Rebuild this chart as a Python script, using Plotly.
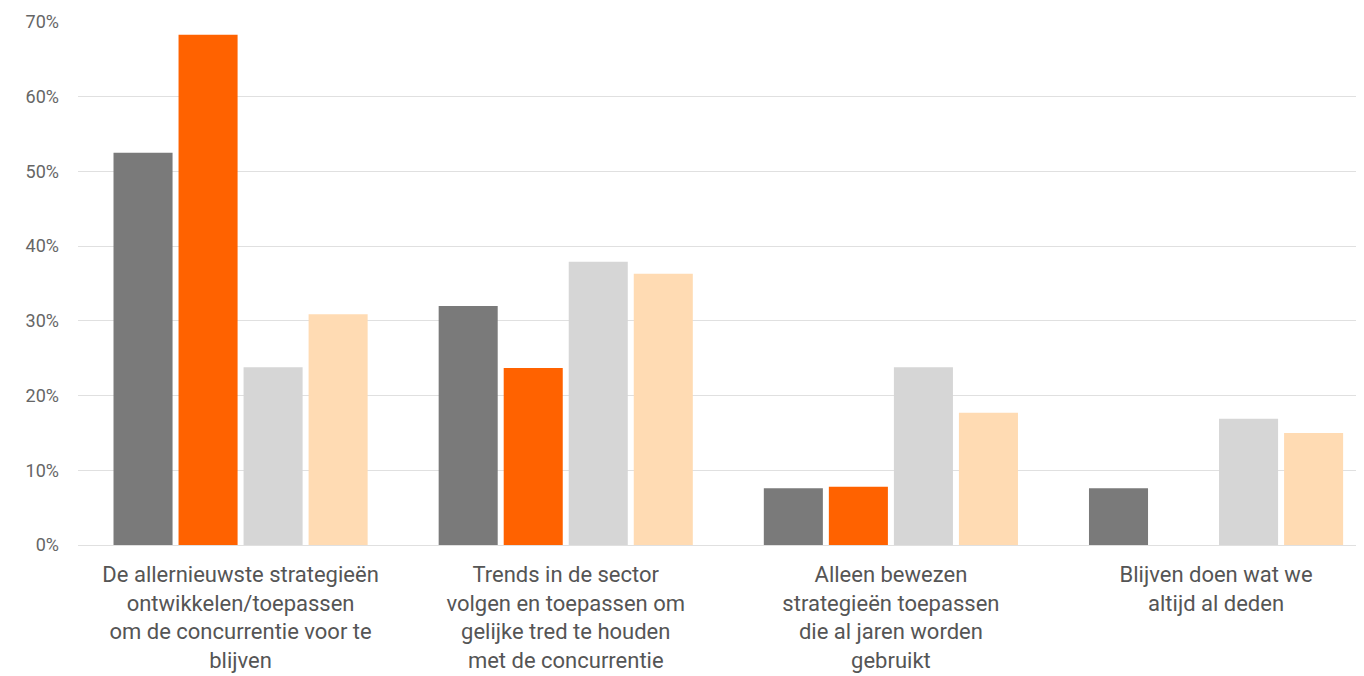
import plotly.graph_objects as go

categories = [
    "De allernieuwste strategieën<br>ontwikkelen/toepassen<br>om de concurrentie voor te<br>blijven",
    "Trends in de sector<br>volgen en toepassen om<br>gelijke tred te houden<br>met de concurrentie",
    "Alleen bewezen<br>strategieën toepassen<br>die al jaren worden<br>gebruikt",
    "Blijven doen wat we<br>altijd al deden",
]
series_names = ["Serie 1", "Serie 2", "Serie 3", "Serie 4"]
series_values = [
    [0.525, 0.320, 0.076, 0.076],
    [0.683, 0.237, 0.078, 0.0],
    [0.238, 0.379, 0.238, 0.169],
    [0.309, 0.363, 0.177, 0.150],
]
colors = ["#7a7a7a", "#ff6200", "#d6d6d6", "#ffdbb3"]
ytick_vals = [0, 0.1, 0.2, 0.3, 0.4, 0.5, 0.6, 0.7]
ytick_text = ["0%", "10%", "20%", "30%", "40%", "50%", "60%", "70%"]

fig = go.Figure()
for name, vals, col in zip(series_names, series_values, colors):
    fig.add_trace(go.Bar(
        x=list(range(len(categories))), y=vals, name=name,
        marker=dict(color=col, line=dict(width=0)),
    ))

fig.update_layout(
    width=1356, height=668,
    margin=dict(l=70, r=0, t=14, b=131),
    paper_bgcolor="white", plot_bgcolor="white",
    barmode="group", bargap=0.2, bargroupgap=0.092,
    showlegend=False,
    font=dict(family="Roboto", color="#555555"),
    xaxis=dict(
        tickmode="array", tickvals=list(range(len(categories))), ticktext=categories,
        range=[-0.5, 3.455], showgrid=False, zeroline=False, showline=False,
        ticks="", tickfont=dict(family="Roboto", size=22, color="#555555"),
        ticklabelstandoff=14,
    ),
    yaxis=dict(
        range=[0, 0.7], tickvals=ytick_vals, ticktext=ytick_text,
        showgrid=True, gridcolor="#e0e0e0", gridwidth=1,
        zeroline=True, zerolinecolor="#e0e0e0", zerolinewidth=1,
        showline=False, ticks="", ticklen=0,
        tickfont=dict(family="Roboto", size=18, color="#666666"),
        ticklabelstandoff=18,
    ),
)
fig.write_html("out.html")
